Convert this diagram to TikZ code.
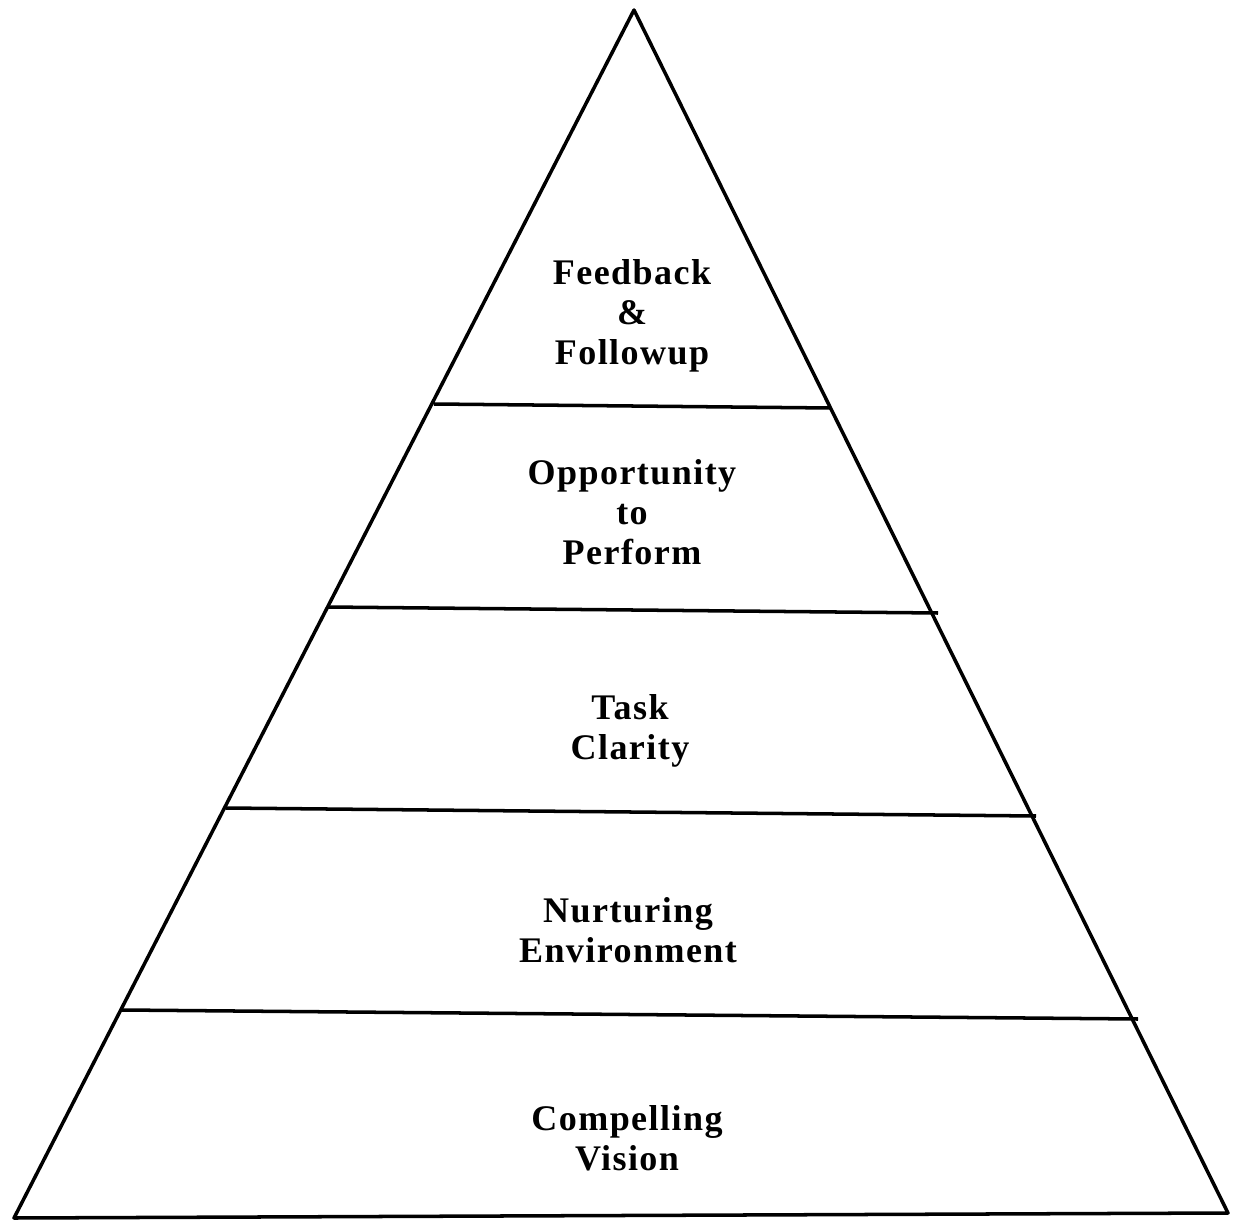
\documentclass[tikz,border=0pt]{standalone}
\usepackage{fontspec}
\setmainfont[LetterSpace=4]{Liberation Serif}
\begin{document}
\begin{tikzpicture}[x=0.02cm, y=-0.02cm, line width=2pt, line join=round,
    tier/.style={align=center, font=\fontsize{20.5}{22.7}\selectfont\bfseries}]
  \useasboundingbox (0,0) rectangle (1241,1223);
  % outline
  \coordinate (top) at (634,10);
  \coordinate (bl) at (14,1218);
  \coordinate (br) at (1228,1213);
  \draw (bl) -- (top) -- (br) -- cycle;
  % dividers
  \coordinate (l1) at (434,404);  \coordinate (r1) at (831,408);
  \coordinate (l2) at (327,607);  \coordinate (r2) at (938,613);
  \coordinate (l3) at (226,808);  \coordinate (r3) at (1036,816);
  \coordinate (l4) at (122,1010); \coordinate (r4) at (1138,1019);
  \foreach \i in {1,...,4} \draw (l\i) -- (r\i);
  % labels
  \node[tier] (fb) at (632,316) {Feedback\\\&\\Followup};
  \node[tier] (op) at (632,512) {Opportunity\\to\\Perform};
  \node[tier] (tc) at (630,731) {Task\\Clarity};
  \node[tier] (ne) at (628,930) {Nurturing\\Environment};
  \node[tier] (cv) at (627,1138) {Compelling\\Vision};
\end{tikzpicture}
\end{document}
